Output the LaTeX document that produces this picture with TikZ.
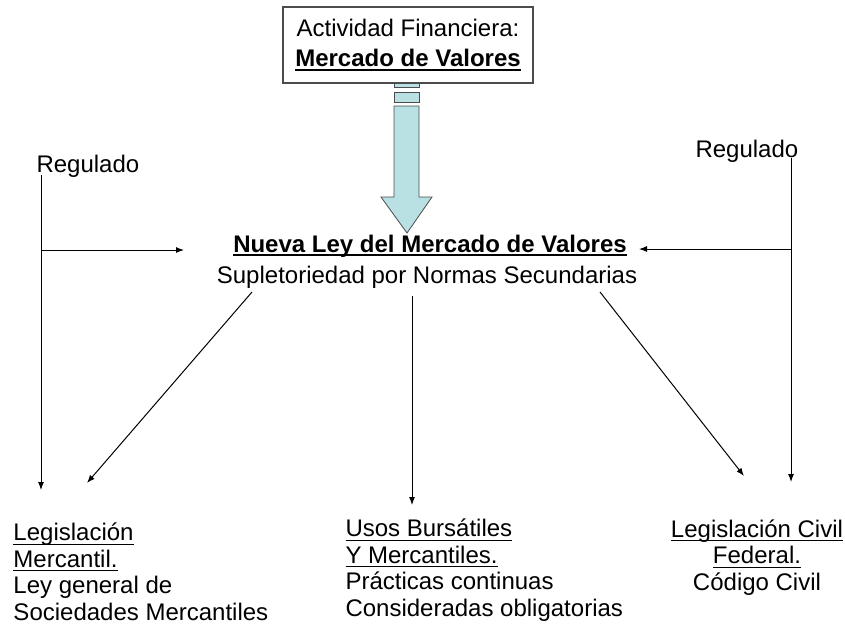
\documentclass[tikz,border=0pt]{standalone}
\usepackage{fontspec}
\setmainfont{Liberation Sans}
\usetikzlibrary{arrows.meta}
\definecolor{flecha}{RGB}{185,224,227}
\newsavebox{\subbox}
\newcommand{\subr}[2][0.9pt]{\sbox{\subbox}{#2}\rlap{\rule[-3.2pt]{\wd\subbox}{#1}}\usebox{\subbox}}

\begin{document}
\begin{tikzpicture}[x=0.75pt,y=-0.75pt,line width=0.75pt,>={Latex[length=6pt,width=4.5pt]}]
\useasboundingbox (0,0) rectangle (845,633);

% caja de arriba
\node[draw=black!70,line width=0.9pt,minimum width=187.5pt,minimum height=57pt,align=center,
      font=\fontsize{18}{22}\selectfont] (actividad) at (408,45)
      {Actividad Financiera:\\\textbf{\subr[1.4pt]{Mercado de Valores}}};

% flecha gruesa
\begin{scope}[draw=black!70,fill=flecha,line width=0.6pt]
    \filldraw (394,83) rectangle (419,87);
    \filldraw (394,92) rectangle (419,102);
    \filldraw (394,106) -- (419,106) -- (419,197) -- (432,197) -- (407,233)
              -- (381,197) -- (394,197) -- cycle;
\end{scope}

\begin{scope}[every node/.style={inner sep=0pt,font=\fontsize{18}{19.8}\selectfont}]
    \node[anchor=base west] (regIzq) at (36,172) {Regulado};
    \node[anchor=base west] (regDer) at (695,157) {Regulado};
    \node[anchor=base] (ley) at (430,252) {\textbf{\subr[1.4pt]{Nueva Ley del Mercado de Valores}}};
    \node[anchor=base] (suple) at (427,283) {Supletoriedad por Normas Secundarias};
    % el ancla base queda en la ultima linea
    \node[anchor=base west,align=left] (mercantil) at (13,620)
        {\subr{Legislación}\\\subr{Mercantil.}\\Ley general de\\Sociedades Mercantiles};
    \node[anchor=base west,align=left] (usos) at (345,616)
        {\subr{Usos Bursátiles}\\\subr{Y Mercantiles.}\\Prácticas continuas\\Consideradas obligatorias};
    \node[anchor=base,align=center] (civil) at (757,590)
        {\subr{Legislación Civil}\\\subr{Federal.}\\Código Civil};
\end{scope}

\coordinate (izqA) at (41,175);
\coordinate (izqB) at (41,490);
\coordinate (izqC) at (41,250);
\coordinate (izqD) at (184,250);
\coordinate (derA) at (791,158);
\coordinate (derB) at (791,482);
\coordinate (derC) at (791,249);
\coordinate (derD) at (639,249);
\coordinate (s1) at (252,292);
\coordinate (s2) at (412,296);
\coordinate (s3) at (600,292);
\coordinate (t1) at (87,483);
\coordinate (t2) at (412,505);
\coordinate (t3) at (744,476);

\draw[->] (izqA) -- (izqB);
\draw[->] (izqC) -- (izqD);
\draw[->] (derA) -- (derB);
\draw[->] (derC) -- (derD);
\draw[->] (s1) -- (t1);
\draw[->] (s2) -- (t2);
\draw[->] (s3) -- (t3);
\end{tikzpicture}
\end{document}
